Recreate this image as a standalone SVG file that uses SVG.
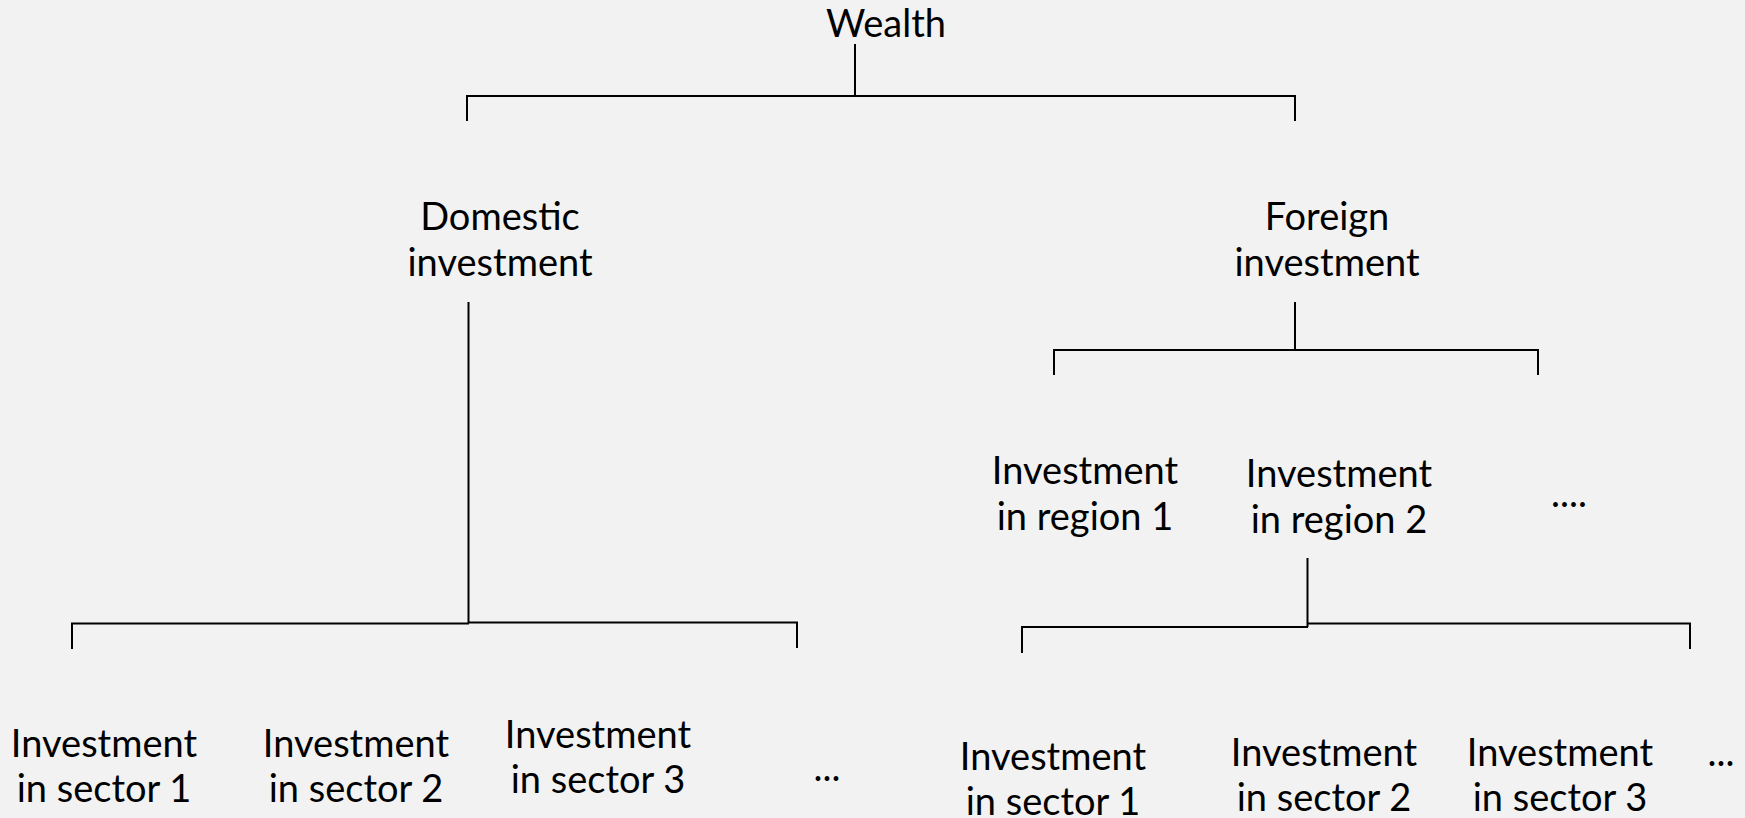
<svg xmlns="http://www.w3.org/2000/svg" width="1745" height="818" viewBox="0 0 1745 818">
<style>
text{font-family:Lato,"Open Sans","Liberation Sans",sans-serif;font-size:38px;fill:#000;text-anchor:middle}
.c line{stroke:#000;stroke-width:2;fill:none}
</style>
<rect width="1745" height="818" fill="#F2F2F2"/>
<g class="c" id="connectors">
<line x1="855" y1="44" x2="855" y2="96"/>
<line x1="466" y1="96" x2="1296" y2="96"/>
<line x1="467" y1="95" x2="467" y2="121"/>
<line x1="1295" y1="95" x2="1295" y2="121"/>
<line x1="468.5" y1="302" x2="468.5" y2="623"/>
<line x1="71" y1="623.5" x2="469" y2="623.5"/>
<line x1="468" y1="622.5" x2="798" y2="622.5"/>
<line x1="72" y1="623" x2="72" y2="649"/>
<line x1="797" y1="622" x2="797" y2="648"/>
<line x1="1295" y1="302" x2="1295" y2="350"/>
<line x1="1053" y1="350" x2="1539" y2="350"/>
<line x1="1054" y1="349" x2="1054" y2="375"/>
<line x1="1538" y1="349" x2="1538" y2="375"/>
<line x1="1307.5" y1="558" x2="1307.5" y2="627"/>
<line x1="1021" y1="627" x2="1308" y2="627"/>
<line x1="1307" y1="623.5" x2="1691" y2="623.5"/>
<line x1="1022" y1="626" x2="1022" y2="653"/>
<line x1="1690" y1="623" x2="1690" y2="649"/>
</g>
<g id="wealth"><text x="886" y="37">Wealth</text></g>
<g id="domestic"><text x="500" y="230">Domestic</text><text x="500" y="276">investment</text></g>
<g id="foreign"><text x="1327" y="230">Foreign</text><text x="1327" y="276">investment</text></g>
<g id="region1"><text x="1085" y="484">Investment</text><text x="1085" y="530">in region 1</text></g>
<g id="region2"><text x="1339" y="487">Investment</text><text x="1339" y="533">in region 2</text></g>
<g id="region-more"><text x="1569" y="507">....</text></g>
<g id="d-sector1"><text x="104" y="757">Investment</text><text x="104" y="802">in sector 1</text></g>
<g id="d-sector2"><text x="356" y="757">Investment</text><text x="356" y="802">in sector 2</text></g>
<g id="d-sector3"><text x="598" y="748">Investment</text><text x="598" y="793">in sector 3</text></g>
<g id="d-more"><text x="827" y="781">...</text></g>
<g id="f-sector1"><text x="1053" y="770">Investment</text><text x="1053" y="815">in sector 1</text></g>
<g id="f-sector2"><text x="1324" y="766">Investment</text><text x="1324" y="811">in sector 2</text></g>
<g id="f-sector3"><text x="1560" y="766">Investment</text><text x="1560" y="811">in sector 3</text></g>
<g id="f-more"><text x="1721" y="766">...</text></g>
</svg>
